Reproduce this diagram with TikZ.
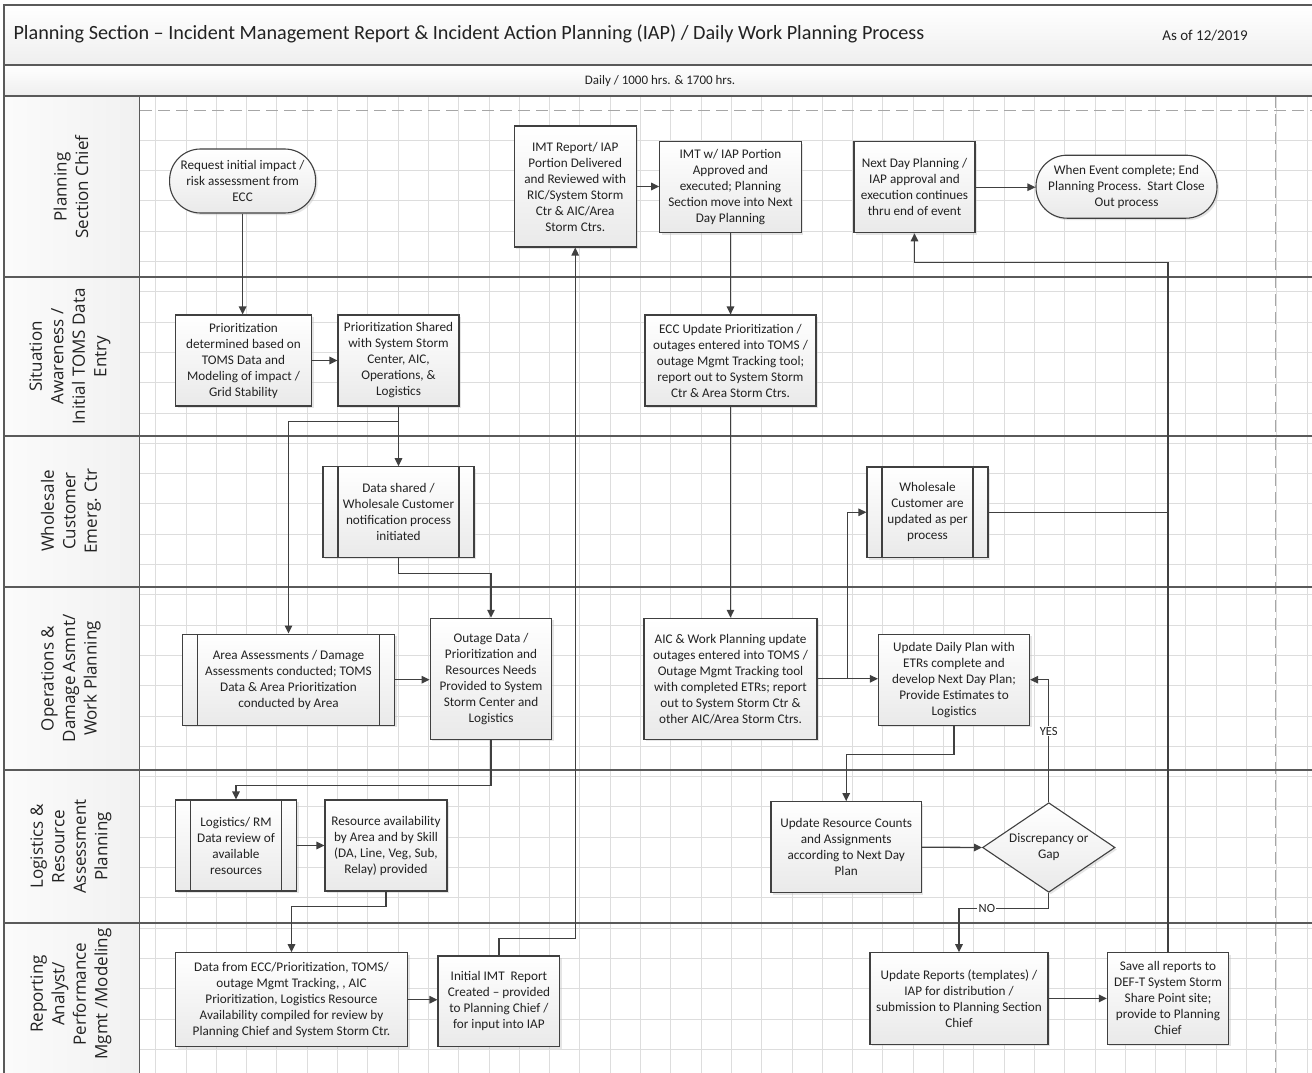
\documentclass[tikz,border=0pt]{standalone}
\usepackage{fontspec}
\setmainfont{Carlito}
\newfontfamily\hdrfont{Open Sans}
\usetikzlibrary{arrows.meta,shadows,shapes.geometric}
\definecolor{lineC}{HTML}{404040}
\definecolor{gridC}{HTML}{DDDDDD}
\definecolor{frameC}{HTML}{5A5A5A}
\definecolor{txtC}{HTML}{222222}
\definecolor{dashC}{HTML}{A6A6A6}
\begin{document}
\begin{tikzpicture}[x=1pt,y=-1pt,
  every node/.style={text=txtC},
  pbox/.style 2 args={draw=lineC, line width=1.1pt, top color=white, bottom color=gray!17,
    align=center, inner sep=0pt, minimum width=#1, minimum height=#2,
    font=\fontsize{13.2}{16}\selectfont,
    drop shadow={shadow xshift=2pt, shadow yshift=-2pt, fill=black!25, opacity=0.4}},
  sbox/.style 2 args={pbox={#1}{#2},
    path picture={\draw[lineC, line width=1.1pt]
      ([xshift=15pt]path picture bounding box.north west) -- ([xshift=15pt]path picture bounding box.south west)
      ([xshift=-15pt]path picture bounding box.north east) -- ([xshift=-15pt]path picture bounding box.south east);}},
  term/.style 2 args={pbox={#1}{#2}, rounded corners=31pt},
  dec/.style 2 args={pbox={#1}{#2}, diamond, shape aspect=1.48},
  conn/.style={draw=lineC, line width=1.3pt, -{Triangle[length=8pt,width=7.5pt]}},
  link/.style={draw=lineC, line width=1.3pt},
  lbl/.style={fill=white, inner sep=1.2pt, font=\fontsize{12.5}{14}\selectfont},
  lane/.style={rotate=90, align=center, font=\hdrfont\fontsize{17}{21.5}\selectfont},
]
\useasboundingbox (0,0) rectangle (1312,1073);
\fill[white] (0,0) rectangle (1312,1073);

% title and subtitle bands
\shade[top color=white, bottom color=gray!13] (4,5) rectangle (1312,65);
\shade[top color=white, bottom color=gray!13] (4,65) rectangle (1312,96);
% lane header column
\shade[left color=gray!3, right color=gray!11] (4,96) rectangle (139.5,1073);

% grid
\begin{scope}
  \clip (140,96) rectangle (1312,1073);
  \foreach \i in {0,...,38} \draw[gridC, line width=0.9pt] ({155.7+30.3*\i},96) -- ({155.7+30.3*\i},1073);
  \foreach \j in {1,...,32} \draw[gridC, line width=0.9pt] (140,{110+30.3*\j}) -- (1312,{110+30.3*\j});
\end{scope}
\draw[dashC, line width=0.9pt, dash pattern=on 12pt off 6pt] (140,110) -- (1312,110);
\draw[dashC, line width=0.9pt, dash pattern=on 12pt off 6pt] (1275,96) -- (1275,1073);

% frame lines
\draw[frameC, line width=1.6pt] (4,1073) -- (4,5) -- (1312,5);
\draw[frameC, line width=1.4pt] (4,65) -- (1312,65);
\foreach \y in {96,277,436,587,770,923} \draw[frameC, line width=1.4pt] (4,\y) -- (1312,\y);
\draw[frameC, line width=1.4pt] (139.5,96) -- (139.5,1073);

% title texts
\node[anchor=west, font=\fontsize{20.2}{24}\selectfont] (title) at (10,34) {Planning Section – Incident Management Report \& Incident Action Planning (IAP) / Daily Work Planning Process};
\node[font=\fontsize{15}{18}\selectfont] (asof) at (1205,36) {As of 12/2019};
\node[font=\fontsize{13}{16}\selectfont] (subt) at (660,81) {Daily / 1000 hrs. \& 1700 hrs.};

% lane headers
\node[lane] (l1) at (71,187) {Planning\\Section Chief};
\node[lane] (l2) at (70,356.5) {Situation\\Awareness /\\Initial TOMS Data\\Entry};
\node[lane] (l3) at (71,511) {Wholesale\\Customer\\Emerg. Ctr};
\node[lane] (l4) at (71,678.5) {Operations \&\\Damage Asmnt/\\Work Planning};
\node[lane] (l5) at (71,846.5) {Logistics \&\\Resource\\Assessment\\Planning};
\node[lane] (l6) at (71,994) {Reporting\\Analyst/\\Performance\\Mgmt /Modeling};

% lane 1
\node[term={146pt}{64pt}] (req) at (242.6,181) {Request initial impact /\\risk assessment from\\ECC};
\node[pbox={121.7pt}{121pt}] (imt) at (575.2,186.5) {IMT Report/ IAP\\Portion Delivered\\and Reviewed with\\RIC/System Storm\\Ctr \& AIC/Area\\Storm Ctrs.};
\node[pbox={141.5pt}{91pt}] (imtw) at (730.5,187.2) {IMT w/ IAP Portion\\Approved and\\executed; Planning\\Section move into Next\\Day Planning};
\node[pbox={121pt}{91pt}] (nextday) at (914.5,187.2) {Next Day Planning /\\IAP approval and\\execution continues\\thru end of event};
\node[term={181pt}{63pt}] (endt) at (1126.5,186.7) {When Event complete; End\\Planning Process.\ \ Start Close\\Out process};

% lane 2
\node[pbox={136pt}{91pt}] (prio1) at (243.5,360.5) {Prioritization\\determined based on\\TOMS Data and\\Modeling of impact /\\Grid Stability};
\node[pbox={121pt}{91pt}] (prio2) at (398.5,360.5) {Prioritization Shared\\with System Storm\\Center, AIC,\\Operations, \&\\Logistics};
\node[pbox={171pt}{91pt}] (ecc) at (730.5,360.5) {ECC Update Prioritization /\\outages entered into TOMS /\\outage Mgmt Tracking tool;\\report out to System Storm\\Ctr \& Area Storm Ctrs.};

% lane 3
\node[sbox={151pt}{90.6pt}] (datash) at (398.5,512) {Data shared /\\Wholesale Customer\\notification process\\initiated};
\node[sbox={121pt}{90.6pt}] (wsupd) at (927.5,512.3) {Wholesale\\Customer are\\updated as per\\process};

% lane 4
\node[sbox={212pt}{91.3pt}] (area) at (288.5,679.7) {Area Assessments / Damage\\Assessments conducted; TOMS\\Data \& Area Prioritization\\conducted by Area};
\node[pbox={121.6pt}{121pt}] (outage) at (491,678.8) {Outage Data /\\Prioritization and\\Resources Needs\\Provided to System\\Storm Center and\\Logistics};
\node[pbox={173pt}{121pt}] (aic) at (730.5,678.8) {AIC \& Work Planning update\\outages entered into TOMS /\\Outage Mgmt Tracking tool\\with completed ETRs; report\\out to System Storm Ctr \&\\other AIC/Area Storm Ctrs.};
\node[pbox={151pt}{91.3pt}] (daily) at (954,679.7) {Update Daily Plan with\\ETRs complete and\\develop Next Day Plan;\\Provide Estimates to\\Logistics};

% lane 5
\node[sbox={121pt}{91pt}] (logrm) at (236,845.5) {Logistics/ RM\\Data review of\\available\\resources};
\node[pbox={122pt}{91pt}] (resav) at (386,845.5) {Resource availability\\by Area and by Skill\\(DA, Line, Veg, Sub,\\Relay) provided};
\node[pbox={150.5pt}{91pt}] (updres) at (846.2,847.2) {Update Resource Counts\\and Assignments\\according to Next Day\\Plan};
\node[dec={132.5pt}{89.6pt}] (dia) at (1048.8,847.5) {Discrepancy or\\Gap};

% lane 6
\node[pbox={232pt}{94pt}] (dataecc) at (291.5,999.7) {Data from ECC/Prioritization, TOMS/\\outage Mgmt Tracking, , AIC\\Prioritization, Logistics Resource\\Availability compiled for review by\\Planning Chief and System Storm Ctr.};
\node[pbox={121.8pt}{90.7pt}] (initimt) at (498.9,1001.3) {Initial IMT\ \ Report\\Created – provided\\to Planning Chief /\\for input into IAP};
\node[pbox={178pt}{91.3pt}] (updrep) at (959,998.4) {Update Reports (templates) /\\IAP for distribution /\\submission to Planning Section\\Chief};
\node[pbox={121.3pt}{91.3pt}] (save) at (1168,998.4) {Save all reports to\\DEF-T System Storm\\Share Point site;\\provide to Planning\\Chief};

% connectors
\draw[conn] (req.south) -- (req.south |- prio1.north);
\draw[conn] (prio1.east) -- (prio1.east -| prio2.west);
\draw[conn] (prio2.south) -- (prio2.south |- datash.north);
\draw[conn] (prio2.south) -- ++(0,14.7) -| (area.north);
\draw[conn] (datash.south) -- ++(0,15.3) -| (outage.north);
\draw[conn] (area.east) -- (area.east -| outage.west);
\draw[conn] (outage.south) -- ++(0,45.4) -| (logrm.north);
\draw[conn] (logrm.east) -- (logrm.east -| resav.west);
\draw[conn] (resav.south) -- ++(0,14.7) -| (dataecc.north);
\draw[conn] (dataecc.east) -- (dataecc.east -| initimt.west);
\draw[conn] (initimt.north) -- ++(0,-16.7) -| (imt.south);
\draw[conn] (imt.east) -- (imt.east -| imtw.west);
\draw[conn] (imtw.south) -- (imtw.south |- ecc.north);
\draw[conn] (ecc.south) -- (ecc.south |- aic.north);
\draw[conn] (aic.east) -- (aic.east -| daily.west);
\draw[conn] ([xshift=30pt]aic.east) |- (wsupd.west);
\draw[conn] (daily.south) -- ++(0,28.7) -| (updres.north);
\draw[conn] (updres.east) -- (dia.west);
\draw[conn] (dia.north) |- node[lbl, pos=0.29] {YES} (daily.east);
\draw[conn] (dia.south) -- ++(0,15.4) -| node[lbl, pos=0.345] {NO} (updrep.north);
\draw[conn] (updrep.east) -- (updrep.east -| save.west);
\draw[conn] (save.north) |- ([yshift=-29pt]nextday.south) -- (nextday.south);
\draw[link] (wsupd.east) -- (wsupd.east -| save.north);
\draw[conn] (nextday.east) -- (nextday.east -| endt.west);
\end{tikzpicture}
\end{document}
